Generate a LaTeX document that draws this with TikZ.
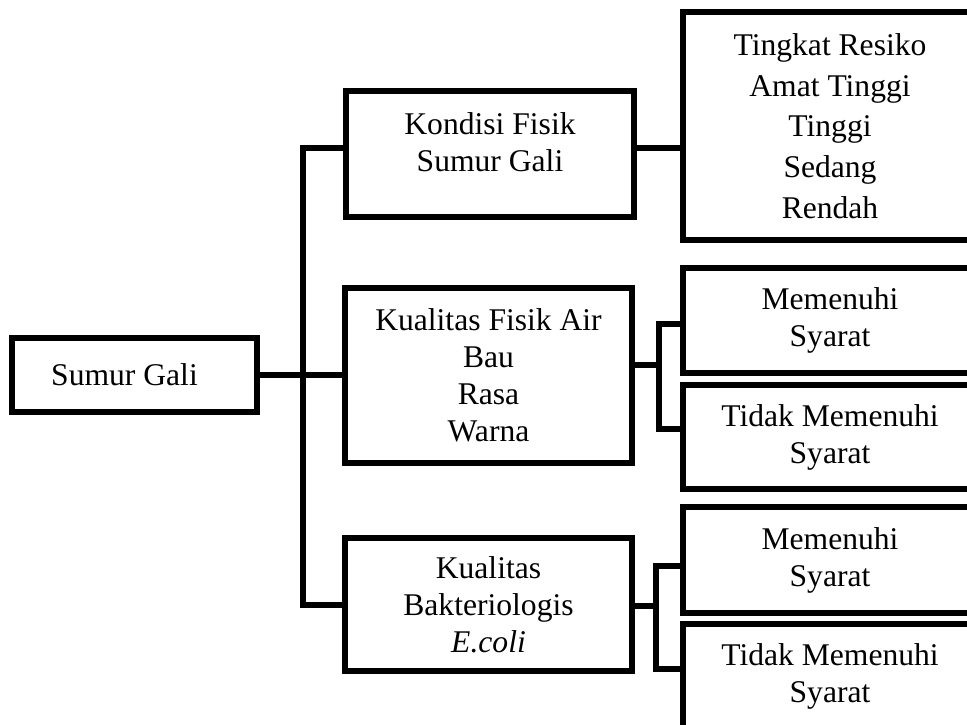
\documentclass[tikz,border=0pt]{standalone}
\usepackage{fontspec}
\setmainfont{Liberation Serif}
\usetikzlibrary{positioning,calc}

\begin{document}
\begin{tikzpicture}[x=0.5pt, y=-0.5pt, line width=2.75pt,
  every node/.style={font=\fontsize{15.8}{18.5}\selectfont},
  box/.style={draw, align=center, inner sep=0pt, minimum width=143.5pt},
  outbox/.style={box, minimum width=147pt}]
  \clip (0,0) rectangle (967,724);
  % left and middle column
  \node[box, minimum width=122.5pt, minimum height=37pt] (sumur) at (134.5,375) {Sumur Gali\hspace{10pt}};
  \node[box, minimum width=144pt, minimum height=63pt, text depth=12pt] (kondisi) at (490,154) {Kondisi Fisik\\Sumur Gali};
  \node[box, minimum height=87.5pt] (fisik) at (488.5,375.5) {Kualitas Fisik Air\\Bau\\Rasa\\Warna};
  \node[box, minimum height=66.5pt, text depth=0pt] (bakteri) at (488.5,604.5) {Kualitas\\Bakteriologis\\\textit{E.coli}};
  % right column
  \node[outbox, minimum height=114pt, font=\fontsize{15.8}{20.4}\selectfont] (tingkat) at (830,126) {Tingkat Resiko\\Amat Tinggi\\Tinggi\\Sedang\\Rendah};
  \node[outbox, minimum height=52.5pt] (memA) at (830,320.5) {Memenuhi\\Syarat};
  \node[outbox, minimum height=52pt] (tidakA) at (830,437) {Tidak Memenuhi\\Syarat};
  \node[outbox, minimum height=53pt] (memB) at (830,560) {Memenuhi\\Syarat};
  \node[outbox, minimum height=52.5pt] (tidakB) at (830,676.5) {Tidak Memenuhi\\Syarat};
  % junctions
  \coordinate (trunktop) at (303,148);
  \coordinate (trunkbot) at (303,605);
  \coordinate (forkA) at (659,365);
  \coordinate (forkB) at (656,606);
  % connectors
  \draw (sumur.east) -- (fisik.west |- sumur.east);
  \draw (kondisi.west |- trunktop) -- (trunktop) -- (trunkbot) -- (bakteri.west |- trunkbot);
  \draw (kondisi.east |- trunktop) -- (tingkat.west |- trunktop);
  \draw (fisik.east |- forkA) -- (forkA);
  \draw (memA.west |- 0,324) -| (659,429) -- (tidakA.west |- 0,429);
  \draw (bakteri.east |- forkB) -- (forkB);
  \draw (memB.west |- 0,566) -| (656,669) -- (tidakB.west |- 0,669);
\end{tikzpicture}
\end{document}
